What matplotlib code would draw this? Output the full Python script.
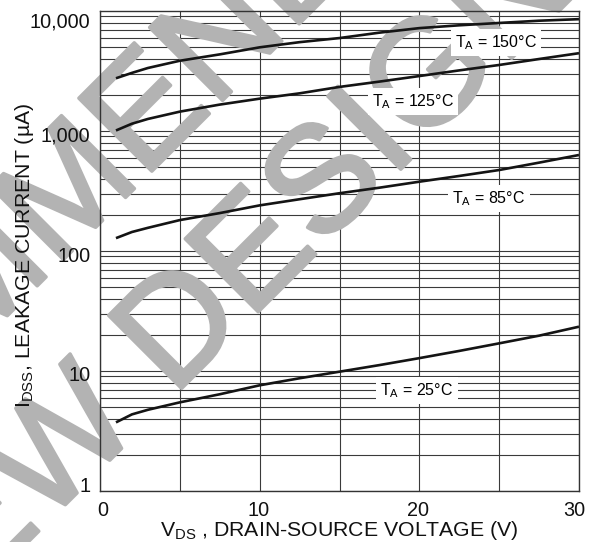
import matplotlib.pyplot as plt
import matplotlib.transforms as mtrans
import matplotlib.patheffects as pe
from matplotlib.ticker import FixedLocator, NullLocator, FixedFormatter

plt.rcParams['font.family'] = ['Liberation Sans', 'DejaVu Sans']
plt.rcParams['mathtext.fontset'] = 'custom'
plt.rcParams['mathtext.rm'] = 'Liberation Sans'
plt.rcParams['mathtext.it'] = 'Liberation Sans:italic'
plt.rcParams['mathtext.default'] = 'regular'

# valors llegits del grafic (uA)
v_ds = [1, 2, 3, 5, 7.5, 10, 12.5, 15, 17.5, 20, 22.5, 25, 27.5, 30]
i_150 = [2750, 3050, 3350, 3850, 4350, 4980, 5500, 5950, 6600, 7200, 7600, 7950, 8300, 8550]
i_125 = [1010, 1150, 1260, 1450, 1660, 1860, 2060, 2330, 2580, 2870, 3200, 3550, 3980, 4450]
i_85 = [128, 144, 156, 181, 207, 240, 270, 303, 337, 378, 422, 473, 545, 631]
i_25 = [3.73, 4.35, 4.75, 5.48, 6.4, 7.6, 8.7, 9.87, 11.2, 12.8, 14.7, 17.0, 19.7, 23.4]

curves = [i_150, i_125, i_85, i_25]
labels = [r'T$_{A}$ = 150°C', r'T$_{A}$ = 125°C', r'T$_{A}$ = 85°C', r'T$_{A}$ = 25°C']
label_x = [24.8, 19.6, 24.35, 19.85]
label_y = [5500, 1750, 272, 6.9]

y_ticks = [1, 10, 100, 1000, 10000]
y_ticklabels = ['1', '10', '100', '1,000', '10,000']
x_ticks = [0, 10, 20, 30]
x_grid = [0, 5, 10, 15, 20, 25, 30]

fig = plt.figure(figsize=(5.95, 5.42), dpi=100)
ax = fig.add_axes([100 / 595, 51 / 542, 479 / 595, 480 / 542])
ax.set_yscale('log')
ax.set_xlim(0, 30)
ax.set_ylim(1, 10000)

# graella feta a ma (per poder posar la marca d'aigua entremig)
grid_c = '#3a3a3a'
for dec in [1, 10, 100, 1000]:
    for k in range(1, 10):
        ax.axhline(k * dec, color=grid_c, lw=0.8, zorder=1)
for xv in x_grid:
    ax.axvline(xv, color=grid_c, lw=0.8, zorder=1)

# marca d'aigua
wm_c = '#b3b3b3'
wm = dict(fontsize=108, color=wm_c, rotation=45, rotation_mode='anchor',
          ha='left', va='baseline', transform=fig.transFigure, clip_on=False, zorder=1.5,
          path_effects=[pe.withStroke(linewidth=2.5, foreground=wm_c)])
ax.text(-340 / 595, 1 - 663 / 542, 'RECOMMENDED', **wm)
ax.text(-104 / 595, 1 - 674 / 542, 'NEW DESIGN', **wm)

for vals in curves:
    ax.plot(v_ds, vals, color='#141414', lw=1.9, zorder=2, solid_capstyle='butt')

for txt, lx, ly in zip(labels, label_x, label_y):
    ax.text(lx, ly, txt, fontsize=11.5, ha='center', va='center', zorder=3,
            bbox=dict(facecolor='white', edgecolor='none', pad=3))

ax.set_axisbelow(False)
ax.yaxis.set_major_locator(FixedLocator(y_ticks))
ax.yaxis.set_major_formatter(FixedFormatter(y_ticklabels))
ax.yaxis.set_minor_locator(NullLocator())
ax.xaxis.set_major_locator(FixedLocator(x_ticks))
ax.tick_params(axis='both', length=0, labelsize=14.3, colors='#111111')
ax.tick_params(axis='y', pad=7)
ax.tick_params(axis='x', pad=7)

# petits desplacaments de les etiquetes com a l'original (pixels)
ytick_dy = [-6.5, 2.5, 4, 2.5, 9]
for lab, dy in zip(ax.get_yticklabels(), ytick_dy):
    lab.set_transform(lab.get_transform() + mtrans.ScaledTranslation(0, -dy / 100, fig.dpi_scale_trans))
xtick_dx = [3, -1, -1, -5]
for lab, dx in zip(ax.get_xticklabels(), xtick_dx):
    lab.set_transform(lab.get_transform() + mtrans.ScaledTranslation(dx / 100, 0, fig.dpi_scale_trans))

for sp in ax.spines.values():
    sp.set_color('#333333')
    sp.set_linewidth(1.0)

ax.set_xlabel(r'V$_{DS}$ , DRAIN-SOURCE VOLTAGE (V)', fontsize=15.3, color='#111111')
ax.set_ylabel(r'I$_{DSS}$, LEAKAGE CURRENT (µA)', fontsize=15.3, color='#111111')
ax.xaxis.set_label_coords(0.5, -0.058)
ax.yaxis.set_label_coords(-0.133, 0.4917)

fig.savefig('out.png', dpi=100)
